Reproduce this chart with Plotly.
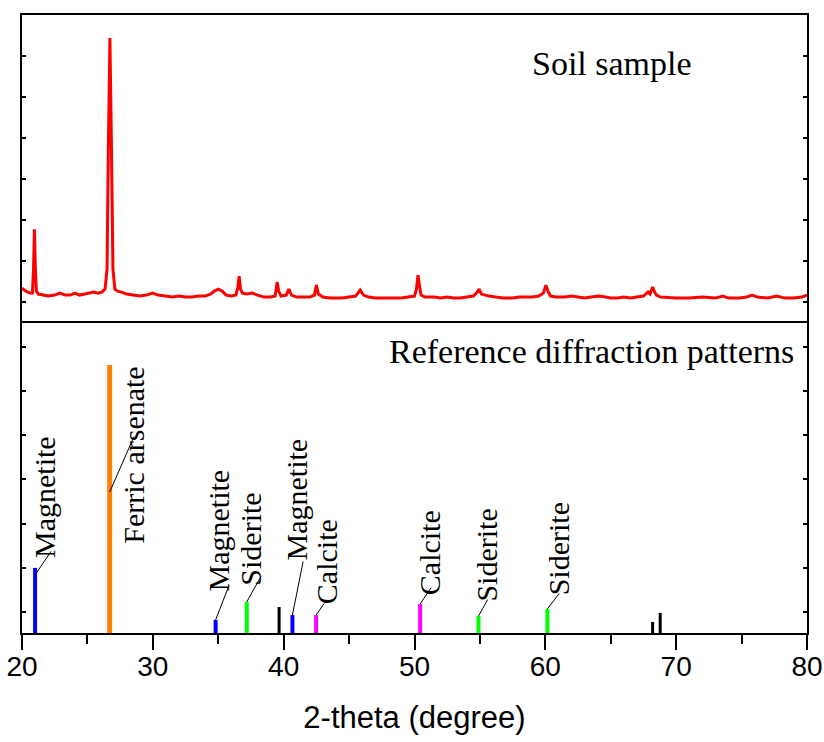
import plotly.graph_objects as go

# ---------------- data ----------------
# Measured soil sample XRD pattern (2-theta in degrees, intensity in counts)
soil_2theta = [
    20.0, 20.3, 20.6, 20.8, 20.88, 20.95, 21.02, 21.1, 21.25, 21.6, 22.0, 22.5, 22.9, 23.3,
    23.7, 24.05, 24.4, 24.8, 25.2, 25.5, 25.8, 26.1, 26.35, 26.5, 26.6, 26.72, 26.84, 26.95,
    27.1, 27.3, 27.6, 28.0, 28.5, 29.0, 29.5, 30.0, 30.4, 31.0, 31.5, 32.0, 32.5, 33.0,
    33.5, 34.0, 34.4, 34.7, 35.0, 35.3, 35.6, 36.0, 36.35, 36.5, 36.6, 36.7, 36.85, 37.2,
    37.6, 38.0, 38.5, 39.0, 39.35, 39.5, 39.62, 39.8, 40.2, 40.4, 40.6, 41.0, 41.5, 42.0,
    42.35, 42.5, 42.65, 43.0, 43.5, 44.0, 44.5, 45.0, 45.5, 45.85, 46.1, 46.5, 47.0, 47.5,
    48.0, 48.5, 49.0, 49.5, 50.0, 50.15, 50.27, 50.38, 50.5, 50.8, 51.5, 52.0, 52.5, 53.0,
    53.5, 54.0, 54.5, 54.8, 54.94, 55.1, 55.35, 55.7, 56.2, 56.8, 57.5, 58.0, 58.5, 59.0,
    59.5, 59.85, 60.04, 60.2, 60.4, 60.8, 61.5, 62.0, 62.5, 63.0, 63.5, 64.1, 64.6, 65.0,
    65.5, 66.0, 66.5, 67.0, 67.5, 67.75, 67.85, 68.0, 68.2, 68.35, 68.5, 68.8, 69.5, 70.0,
    71.0, 72.0, 73.0, 73.57, 74.0, 74.8, 75.4, 75.8, 76.2, 77.0, 77.7, 78.3, 79.0, 79.6, 80.0,
]
soil_counts = [
    350, 320, 300, 300, 540, 940, 540, 320, 290, 280, 270, 280, 300, 280,
    280, 300, 280, 290, 300, 310, 300, 310, 340, 540, 1740, 2860, 1740, 540,
    340, 320, 310, 290, 280, 270, 280, 300, 280, 270, 260, 270, 260, 260,
    270, 270, 290, 320, 340, 320, 280, 270, 280, 360, 470, 340, 300, 290,
    300, 280, 260, 260, 270, 410, 320, 270, 280, 340, 280, 260, 260, 260,
    280, 380, 290, 260, 250, 250, 250, 260, 270, 330, 280, 260, 250, 250,
    250, 250, 250, 260, 270, 340, 480, 370, 280, 260, 260, 250, 260, 250,
    250, 260, 270, 310, 340, 290, 280, 270, 260, 250, 250, 260, 260, 260,
    270, 300, 380, 320, 270, 260, 260, 270, 260, 250, 260, 270, 260, 250,
    250, 260, 250, 260, 270, 300, 310, 290, 360, 310, 280, 260, 250, 250,
    250, 260, 250, 270, 250, 250, 260, 280, 260, 250, 270, 250, 250, 260, 280,
]

# Reference diffraction patterns (stick positions, relative intensity, phase)
ref_2theta = [21.0, 26.7, 34.8, 37.18, 39.65, 40.67, 42.48, 50.43, 54.89, 60.16, 68.2, 68.78]
ref_intensity = [24.3, 100.0, 4.9, 11.6, 9.7, 6.7, 6.7, 10.8, 6.3, 9.0, 4.1, 7.5]
ref_phase = ["Magnetite", "Ferric arsenate", "Magnetite", "Siderite", None, "Magnetite",
             "Calcite", "Calcite", "Siderite", "Siderite", None, None]

x_ticks = [20, 30, 40, 50, 60, 70, 80]
x_title = "2-theta (degree)"
top_title = "Soil sample"
bottom_title = "Reference diffraction patterns"

# ---------------- styles ----------------
phase_color = {"Magnetite": "#0000FF", "Ferric arsenate": "#FF8000", "Siderite": "#00FF00",
               "Calcite": "#FF00FF", None: "#000000"}
phase_width = {"Magnetite": 4, "Ferric arsenate": 5, "Siderite": 4, "Calcite": 4, None: 3}
# label placement in pixels (text-center shift, leader start shift, leader vector)
label_style = [
    dict(xs=10, ys=71, ls=-7, ax=17, ay=-25),
    dict(xs=23, ys=-90, ls=-127, ax=25, ay=-57),
    dict(xs=3, ys=89, ls=0, ax=14, ay=-36),
    dict(xs=4, ys=63, ls=0, ax=15, ay=-27),
    None,
    dict(xs=4, ys=116, ls=0, ax=11, ay=-55),
    dict(xs=10, ys=53, ls=0, ax=9, ay=-13),
    dict(xs=9, ys=51, ls=0, ax=12, ay=-18),
    dict(xs=8, ys=61, ls=0, ax=10, ay=-18),
    dict(xs=11, ys=60, ls=0, ax=13, ay=-17),
    None,
    None,
]

SANS = "Liberation Sans, Arial, sans-serif"
SERIF = "Liberation Serif, Times New Roman, serif"

fig = go.Figure()

# measured pattern (top panel)
fig.add_trace(go.Scatter(x=soil_2theta, y=soil_counts, mode="lines",
                         line=dict(color="#FF0000", width=3), xaxis="x2", yaxis="y2",
                         showlegend=False, hoverinfo="skip"))

# reference sticks (bottom panel), grouped by phase colour
for phase in ["Magnetite", "Ferric arsenate", "Siderite", "Calcite", None]:
    xs, ys = [], []
    for xv, iv, ph in zip(ref_2theta, ref_intensity, ref_phase):
        if ph == phase:
            xs += [xv, xv, None]
            ys += [0, iv, None]
    fig.add_trace(go.Scatter(x=xs, y=ys, mode="lines",
                             line=dict(color=phase_color[phase], width=phase_width[phase]),
                             xaxis="x", yaxis="y", showlegend=False, hoverinfo="skip",
                             cliponaxis=False))

annotations = []
for xv, iv, ph, st in zip(ref_2theta, ref_intensity, ref_phase, label_style):
    if ph is None or st is None:
        continue
    annotations.append(dict(x=xv, y=iv, xref="x", yref="y", text=ph, showarrow=False,
                            textangle=-90, xanchor="center", yanchor="middle",
                            xshift=st["xs"], yshift=st["ys"],
                            font=dict(family=SERIF, size=30, color="black")))
    annotations.append(dict(x=xv, y=iv, xref="x", yref="y", text="", showarrow=True,
                            arrowhead=0, arrowwidth=1, arrowcolor="black",
                            ax=st["ax"], ay=st["ay"], yshift=st["ls"], standoff=0))

annotations.append(dict(x=0.752, y=0.922, xref="paper", yref="paper", text=top_title,
                        showarrow=False, xanchor="center", yanchor="middle",
                        font=dict(family=SERIF, size=34, color="black")))
annotations.append(dict(x=0.726, y=0.455, xref="paper", yref="paper", text=bottom_title,
                        showarrow=False, xanchor="center", yanchor="middle",
                        font=dict(family=SERIF, size=34, color="black")))

split = 310 / 618

fig.update_layout(
    width=824, height=742,
    margin=dict(l=22, r=17, t=15, b=109, autoexpand=False),
    paper_bgcolor="white", plot_bgcolor="white",
    showlegend=False,
    annotations=annotations,
    xaxis=dict(domain=[0, 1], range=[20, 80], anchor="y", automargin=False,
               showline=True, linecolor="black", linewidth=2, mirror=True,
               showgrid=False, zeroline=False,
               ticks="outside", ticklen=15, tickwidth=2, tickcolor="black",
               tickvals=x_ticks, ticktext=[str(t) for t in x_ticks],
               tickfont=dict(family=SANS, size=28, color="black"),
               ticklabelstandoff=-8,
               minor=dict(dtick=5, tick0=25, ticks="outside", ticklen=9, tickwidth=2,
                          tickcolor="black", showgrid=False),
               title=dict(text=x_title, font=dict(family=SANS, size=31, color="black"),
                          standoff=26)),
    yaxis=dict(domain=[0, split], range=[0, 115.7], anchor="x", automargin=False,
               showline=True, linecolor="black", linewidth=2, mirror="ticks",
               showgrid=False, zeroline=False, showticklabels=False,
               ticks="inside", ticklen=4, tickwidth=1.5, tickcolor="black",
               tick0=7.8, dtick=16.5),
    xaxis2=dict(domain=[0, 1], range=[20, 80], anchor="y2", matches="x", automargin=False,
                side="top", showline=True, linecolor="black", linewidth=2, mirror=False,
                showgrid=False, zeroline=False, showticklabels=False, ticks=""),
    yaxis2=dict(domain=[split, 1], range=[0, 3090], anchor="x2", automargin=False,
                showline=True, linecolor="black", linewidth=2, mirror="ticks",
                showgrid=False, zeroline=False, showticklabels=False,
                ticks="inside", ticklen=4, tickwidth=1.5, tickcolor="black",
                tick0=210, dtick=411),
)

# remove the default page margin so the figure fills the 824x742 window exactly
fig.write_html("out.html", config={"displayModeBar": False},
               post_script="document.body.style.margin='0';")
